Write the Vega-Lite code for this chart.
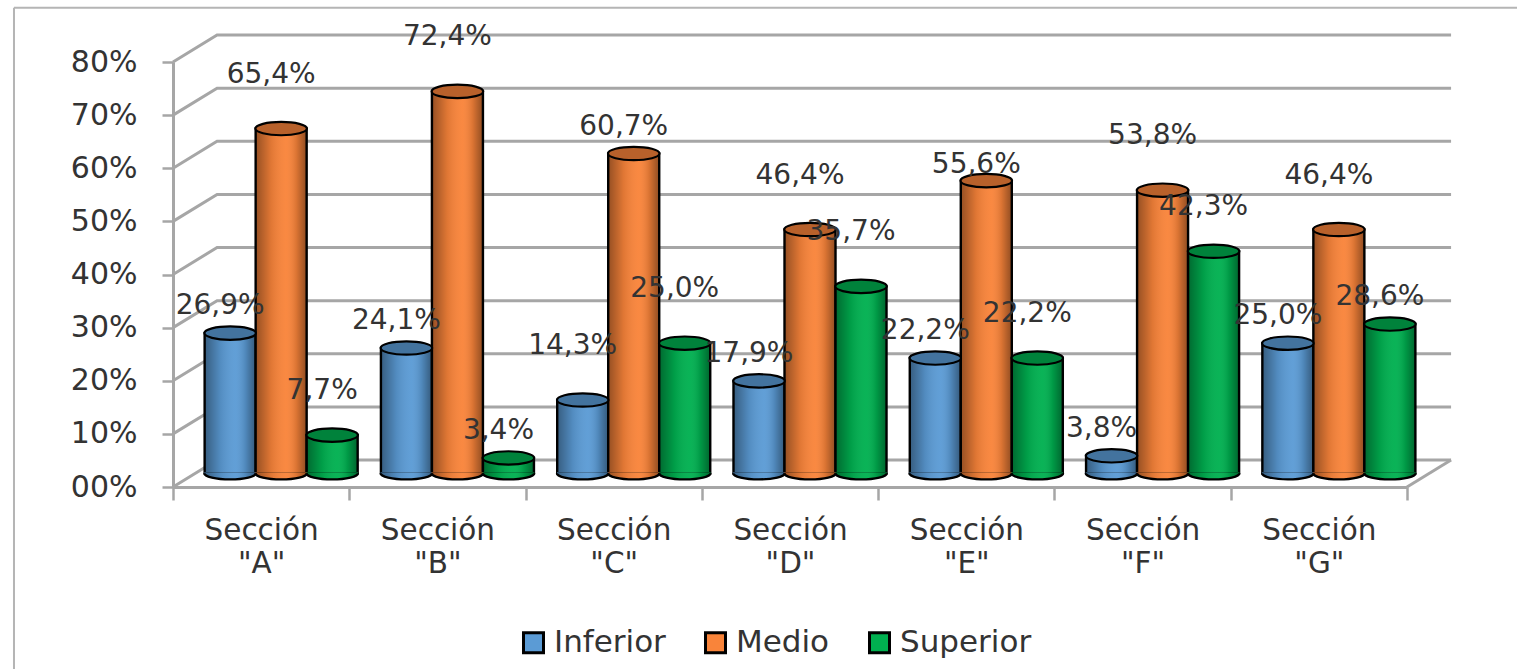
{
"$schema":"https://vega.github.io/schema/vega-lite/v6.json",
"width":1234,"height":425,
"autosize":"none",
"padding":{"left":173,"top":62,"right":110,"bottom":182},
"background":"white",
"config":{"view":{"stroke":null},"font":"DejaVu Sans"},
"datasets":{
"marco":[
{"linea":"80","pos":0,"pct":80},{"linea":"80","pos":0.25,"pct":85.08},{"linea":"80","pos":7.25,"pct":85.08},
{"linea":"70","pos":0,"pct":70},{"linea":"70","pos":0.25,"pct":75.08},{"linea":"70","pos":7.25,"pct":75.08},
{"linea":"60","pos":0,"pct":60},{"linea":"60","pos":0.25,"pct":65.08},{"linea":"60","pos":7.25,"pct":65.08},
{"linea":"50","pos":0,"pct":50},{"linea":"50","pos":0.25,"pct":55.08},{"linea":"50","pos":7.25,"pct":55.08},
{"linea":"40","pos":0,"pct":40},{"linea":"40","pos":0.25,"pct":45.08},{"linea":"40","pos":7.25,"pct":45.08},
{"linea":"30","pos":0,"pct":30},{"linea":"30","pos":0.25,"pct":35.08},{"linea":"30","pos":7.25,"pct":35.08},
{"linea":"20","pos":0,"pct":20},{"linea":"20","pos":0.25,"pct":25.08},{"linea":"20","pos":7.25,"pct":25.08},
{"linea":"10","pos":0,"pct":10},{"linea":"10","pos":0.25,"pct":15.08},{"linea":"10","pos":7.25,"pct":15.08},
{"linea":"00","pos":0,"pct":0},{"linea":"00","pos":0.25,"pct":5.08},{"linea":"00","pos":7.25,"pct":5.08},
{"linea":"piso","pos":7,"pct":0},{"linea":"piso","pos":7.25,"pct":5.08}
],
"borde":[
{"linea":"arriba","pos":-0.902,"pct":90.2},{"linea":"arriba","pos":7.63,"pct":90.2},
{"linea":"izq","pos":-0.902,"pct":90.2},{"linea":"izq","pos":-0.902,"pct":-34.5}
],
"notas":[
{"seccion":"Sección \"A\"","nivel":"Inferior","valor":26.9,"etiqueta":"26,9%"},
{"seccion":"Sección \"A\"","nivel":"Medio","valor":65.4,"etiqueta":"65,4%"},
{"seccion":"Sección \"A\"","nivel":"Superior","valor":7.7,"etiqueta":"7,7%"},
{"seccion":"Sección \"B\"","nivel":"Inferior","valor":24.1,"etiqueta":"24,1%"},
{"seccion":"Sección \"B\"","nivel":"Medio","valor":72.4,"etiqueta":"72,4%"},
{"seccion":"Sección \"B\"","nivel":"Superior","valor":3.4,"etiqueta":"3,4%"},
{"seccion":"Sección \"C\"","nivel":"Inferior","valor":14.3,"etiqueta":"14,3%"},
{"seccion":"Sección \"C\"","nivel":"Medio","valor":60.7,"etiqueta":"60,7%"},
{"seccion":"Sección \"C\"","nivel":"Superior","valor":25.0,"etiqueta":"25,0%"},
{"seccion":"Sección \"D\"","nivel":"Inferior","valor":17.9,"etiqueta":"17,9%"},
{"seccion":"Sección \"D\"","nivel":"Medio","valor":46.4,"etiqueta":"46,4%"},
{"seccion":"Sección \"D\"","nivel":"Superior","valor":35.7,"etiqueta":"35,7%"},
{"seccion":"Sección \"E\"","nivel":"Inferior","valor":22.2,"etiqueta":"22,2%"},
{"seccion":"Sección \"E\"","nivel":"Medio","valor":55.6,"etiqueta":"55,6%"},
{"seccion":"Sección \"E\"","nivel":"Superior","valor":22.2,"etiqueta":"22,2%"},
{"seccion":"Sección \"F\"","nivel":"Inferior","valor":3.8,"etiqueta":"3,8%"},
{"seccion":"Sección \"F\"","nivel":"Medio","valor":53.8,"etiqueta":"53,8%"},
{"seccion":"Sección \"F\"","nivel":"Superior","valor":42.3,"etiqueta":"42,3%"},
{"seccion":"Sección \"G\"","nivel":"Inferior","valor":25.0,"etiqueta":"25,0%"},
{"seccion":"Sección \"G\"","nivel":"Medio","valor":46.4,"etiqueta":"46,4%"},
{"seccion":"Sección \"G\"","nivel":"Superior","valor":28.6,"etiqueta":"28,6%"}
]
},
"resolve":{"scale":{"x":"independent"},"axis":{"x":"independent"}},
"layer":[
{"data":{"name":"marco"},
 "mark":{"type":"line","stroke":"#a6a6a6","strokeWidth":3,"clip":false},
 "encoding":{
  "x":{"field":"pos","type":"quantitative","scale":{"domain":[0,7],"nice":false,"zero":false},"axis":null},
  "y":{"field":"pct","type":"quantitative","scale":{"domain":[0,80],"nice":false},
   "axis":{"title":null,"values":[0,10,20,30,40,50,60,70,80],"labelExpr":"format(datum.value,'02d')+'%'","labelFont":"DejaVu Sans","labelFontSize":30,"labelColor":"#333333","labelPadding":25,"grid":false,"domainColor":"#a6a6a6","domainWidth":3,"tickColor":"#a6a6a6","tickWidth":2.5,"tickSize":11}},
  "detail":{"field":"linea"}
 }},
{"data":{"name":"borde"},
 "mark":{"type":"line","stroke":"#b5b5b5","strokeWidth":2,"clip":false},
 "encoding":{
  "x":{"field":"pos","type":"quantitative","scale":{"domain":[0,7],"nice":false,"zero":false},"axis":null},
  "y":{"field":"pct","type":"quantitative"},
  "detail":{"field":"linea"}
 }},
{"data":{"name":"notas"},
 "encoding":{
  "x":{"field":"seccion","type":"nominal","scale":{"type":"band","paddingInner":0,"paddingOuter":0},
   "axis":{"title":null,"labelAngle":0,"labelExpr":"split(datum.label,' ')","labelFont":"DejaVu Sans","labelFontSize":29.5,"labelColor":"#333333","labelLineHeight":33,"labelPadding":16,"labelBaseline":"top","tickBand":"extent","domainColor":"#a6a6a6","domainWidth":3,"tickColor":"#a6a6a6","tickWidth":2.5,"tickSize":13,"grid":false}},
  "xOffset":{"field":"nivel","type":"nominal","scale":{"type":"band","paddingInner":0,"paddingOuter":0.228,"range":[20,196.3]}},
  "y":{"field":"valor","type":"quantitative","stack":null}
 },
 "layer":[
 {"mark":{"type":"bar","stroke":"black","strokeWidth":2.4,"yOffset":-11},
  "encoding":{"y2":{"datum":2.6},"color":{"field":"nivel","type":"nominal","scale":{"domain":["Inferior","Medio","Superior"],"range":["#5b9bd5","#f9843a","#00b050"]},
   "legend":{"orient":"none","legendX":345,"legendY":565,"direction":"horizontal","title":null,"symbolType":"square","symbolSize":400,"symbolStrokeColor":"black","symbolStrokeWidth":3,"symbolOpacity":1,"labelFont":"DejaVu Sans","labelFontSize":31,"labelColor":"#333333","columnPadding":33,"labelOffset":5}}}},
 {"mark":{"type":"point","filled":true,"opacity":1,"size":2650,"shape":"M-1,-0.04 L-1,0 A1,0.24 0 0 0 1,0 L1,-0.04 Z","strokeWidth":0},
  "encoding":{"y":{"datum":2.6},"color":{"field":"nivel","type":"nominal"}}},
 {"mark":{"type":"bar","yOffset":-11,
   "fill":{"gradient":"linear","x1":0,"x2":1,"y1":0,"y2":0,"stops":[{"offset":0,"color":"rgba(0,0,0,0.4)"},{"offset":0.3,"color":"rgba(0,0,0,0.1)"},{"offset":0.6,"color":"rgba(255,255,255,0.04)"},{"offset":0.8,"color":"rgba(0,0,0,0.12)"},{"offset":1,"color":"rgba(0,0,0,0.42)"}]}},
  "encoding":{"y2":{"datum":2.6}}},
 {"mark":{"type":"point","filled":false,"opacity":1,"size":2650,"shape":"M-1,0 A1,0.24 0 0 0 1,0","stroke":"black","strokeWidth":2.4,
   "fill":{"gradient":"linear","x1":0,"x2":1,"y1":0,"y2":0,"stops":[{"offset":0,"color":"rgba(0,0,0,0.4)"},{"offset":0.3,"color":"rgba(0,0,0,0.1)"},{"offset":0.6,"color":"rgba(255,255,255,0.04)"},{"offset":0.8,"color":"rgba(0,0,0,0.12)"},{"offset":1,"color":"rgba(0,0,0,0.42)"}]}},
  "encoding":{"y":{"datum":2.6}}},
 {"mark":{"type":"point","filled":true,"opacity":1,"yOffset":-11,"size":2650,"shape":"M-1,0 A1,0.26 0 1 1 1,0 A1,0.26 0 1 1 -1,0 Z","strokeWidth":0},
  "encoding":{"color":{"field":"nivel","type":"nominal"}}},
 {"mark":{"type":"point","filled":true,"opacity":1,"yOffset":-11,"size":2650,"shape":"M-1,0 A1,0.26 0 1 1 1,0 A1,0.26 0 1 1 -1,0 Z","fill":"rgba(0,0,0,0.26)","stroke":"black","strokeWidth":2.2}},
 {"transform":[{"filter":"indexof(['E|Medio'],substring(datum.seccion,9,10)+'|'+datum.nivel)>=0"}],
  "mark":{"type":"text","font":"DejaVu Sans","fontSize":28,"color":"#333333","yOffset":-11,"dx":-10,"dy":-16,"baseline":"middle"},
  "encoding":{"text":{"field":"etiqueta"}}},
 {"transform":[{"filter":"indexof(['A|Inferior','B|Inferior','B|Superior','C|Medio','D|Inferior','E|Inferior','F|Inferior','G|Inferior','G|Superior'],substring(datum.seccion,9,10)+'|'+datum.nivel)>=0"}],
  "mark":{"type":"text","font":"DejaVu Sans","fontSize":28,"color":"#333333","yOffset":-11,"dx":-10,"dy":-27,"baseline":"middle"},
  "encoding":{"text":{"field":"etiqueta"}}},
 {"transform":[{"filter":"indexof(['A|Superior','E|Superior','F|Superior'],substring(datum.seccion,9,10)+'|'+datum.nivel)>=0"}],
  "mark":{"type":"text","font":"DejaVu Sans","fontSize":28,"color":"#333333","yOffset":-11,"dx":-10,"dy":-44,"baseline":"middle"},
  "encoding":{"text":{"field":"etiqueta"}}},
 {"transform":[{"filter":"indexof(['A|Medio','B|Medio','C|Inferior','C|Superior','D|Medio','D|Superior','F|Medio','G|Medio'],substring(datum.seccion,9,10)+'|'+datum.nivel)>=0"}],
  "mark":{"type":"text","font":"DejaVu Sans","fontSize":28,"color":"#333333","yOffset":-11,"dx":-10,"dy":-54,"baseline":"middle"},
  "encoding":{"text":{"field":"etiqueta"}}}
 ]}
]
}
